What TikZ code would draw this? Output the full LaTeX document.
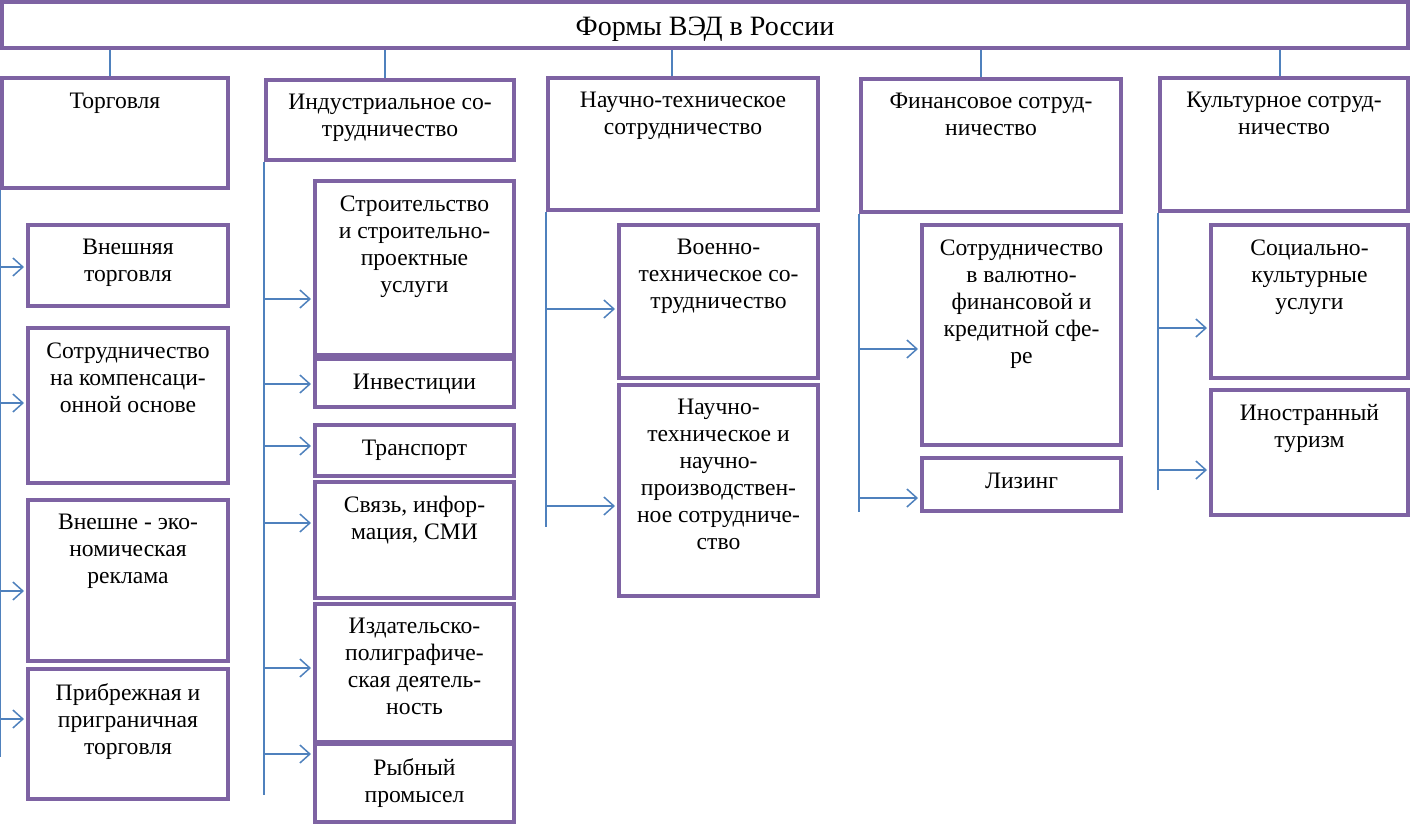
\documentclass[tikz,border=0pt]{standalone}
\usepackage{fontspec}
\setmainfont{Liberation Serif}
\usetikzlibrary{fit,arrows.meta}
\definecolor{boxc}{HTML}{7E63A3}
\definecolor{linec}{HTML}{4F81BD}
\tikzset{
 box/.style={draw=boxc, line width=2pt, inner sep=0pt},
 txt/.style={anchor=north, align=center, inner sep=0pt, execute at begin node={\rule{0pt}{8pt}}, font=\fontsize{11.8}{13.5}\selectfont},
 conn/.style={draw=linec, line width=0.75pt},
 arr/.style={conn, shorten >=1pt, -{Straight Barb[length=5pt,width=9pt,line width=0.75pt]}},
}
\newcommand\bx[6]{\node[box, fit={(#2,#3)(#4,#5)}] (#1) {}; \node[txt] (#1t) at ([yshift=-8pt]#1.north) {#6};}
\newcommand\ar[3]{\draw[arr] (#1.south west |- 0,#3) -- (#2.west |- 0,#3);}
\begin{document}
\begin{tikzpicture}[x=0.5pt,y=-0.5pt]
\useasboundingbox (0,0) rectangle (1411,825);
% title
\node[box, fit={(2,2)(1408,48)}] (title) {};
\node[inner sep=0pt, font=\fontsize{14}{16}\selectfont] (titlet) at ([yshift=-2pt]title.center) {Формы ВЭД в России};
% top level
\bx{a}{2}{78}{228}{188}{Торговля}
\bx{b}{266}{80}{514}{160}{Индустриальное со-\\трудничество}
\bx{c}{548}{78}{818}{210}{Научно-техническое\\сотрудничество}
\bx{d}{861}{79}{1121}{212}{Финансовое сотруд-\\ничество}
\bx{e}{1160}{78}{1408}{211}{Культурное сотруд-\\ничество}
\draw[conn] (title.south -| 110,0) -- (a.north -| 110,0);
\draw[conn] (title.south -| 385,0) -- (b.north -| 385,0);
\draw[conn] (title.south -| 672,0) -- (c.north -| 672,0);
\draw[conn] (title.south -| 981,0) -- (d.north -| 981,0);
\draw[conn] (title.south -| 1280,0) -- (e.north -| 1280,0);
% column 1
\bx{a1}{28}{225}{228}{306}{Внешняя\\торговля}
\bx{a2}{28}{328}{228}{483}{Сотрудничество\\на компенсаци-\\онной основе}
\bx{a3}{28}{500}{228}{661}{Внешне - эко-\\номическая\\реклама}
\bx{a4}{28}{669}{228}{799}{Прибрежная и\\приграничная\\торговля}
\coordinate (ae) at (a.south west |- 0,757);
\draw[conn] (a.south west) -- (ae);
\ar{a}{a1}{267}
\ar{a}{a2}{403}
\ar{a}{a3}{591}
\ar{a}{a4}{719}
% column 2
\bx{b1}{315}{181}{514}{355}{Строительство\\и строительно-\\проектные\\услуги}
\bx{b2}{315}{359}{514}{407}{Инвестиции}
\bx{b3}{315}{425}{514}{476}{Транспорт}
\bx{b4}{315}{482}{514}{598}{Связь, инфор-\\мация, СМИ}
\bx{b5}{315}{604}{514}{742}{Издательско-\\полиграфиче-\\ская деятель-\\ность}
\bx{b6}{315}{744}{514}{822}{Рыбный\\промысел}
\coordinate (be) at (b.south west |- 0,795);
\draw[conn] (b.south west) -- (be);
\ar{b}{b1}{299}
\ar{b}{b2}{384}
\ar{b}{b3}{446}
\ar{b}{b4}{523}
\ar{b}{b5}{668}
\ar{b}{b6}{754}
% column 3
\bx{c1}{619}{225}{818}{378}{Военно-\\техническое со-\\трудничество}
\bx{c2}{619}{385}{818}{596}{Научно-\\техническое и\\научно-\\производствен-\\ное сотрудниче-\\ство}
\coordinate (ce) at (c.south west |- 0,527);
\draw[conn] (c.south west) -- (ce);
\ar{c}{c1}{309}
\ar{c}{c2}{506}
% column 4
\bx{d1}{922}{225}{1121}{445}{Сотрудничество\\в валютно-\\финансовой и\\кредитной сфе-\\ре}
\bx{d2}{922}{458}{1121}{511}{Лизинг}
\coordinate (de) at (d.south west |- 0,512);
\draw[conn] (d.south west) -- (de);
\ar{d}{d1}{349}
\ar{d}{d2}{498}
% column 5
\bx{e1}{1211}{225}{1408}{378}{Социально-\\культурные\\услуги}
\bx{e2}{1211}{390}{1408}{515}{Иностранный\\туризм}
\coordinate (ee) at (e.south west |- 0,490);
\draw[conn] (e.south west) -- (ee);
\ar{e}{e1}{328}
\ar{e}{e2}{470}
\end{tikzpicture}
\end{document}
